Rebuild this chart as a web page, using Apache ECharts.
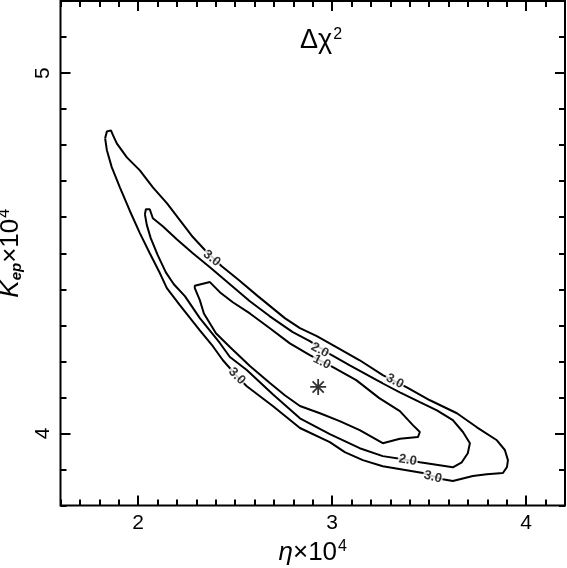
<!DOCTYPE html>
<html><head><meta charset="utf-8">
<script src="https://cdn.jsdelivr.net/npm/echarts@6/dist/echarts.min.js"></script>
<style>html,body{margin:0;padding:0;background:#fff}#c{width:567px;height:568px}</style>
</head><body><div id="c"></div>
<script>
// ---- data (eta x 1e4, K_ep x 1e4) ----
const xRange = [1.6, 4.2];
const yRange = [3.8, 5.2];
const xMajorTicks = [2, 3, 4];
const yMajorTicks = [4, 5];
const contour30 = [
[1.830,4.819],[1.839,4.838],[1.860,4.841],[1.871,4.827],[1.890,4.805],[1.942,4.766],[2.009,4.730],[2.076,4.683],[2.148,4.639],[2.215,4.592],[2.282,4.545],[2.344,4.509],[2.431,4.464],[2.514,4.428],[2.617,4.381],[2.756,4.320],[2.834,4.292],[2.921,4.270],[3.024,4.239],[3.142,4.203],[3.261,4.162],[3.385,4.128],[3.504,4.092],[3.643,4.056],[3.746,4.017],[3.849,3.981],[3.890,3.954],[3.906,3.926],[3.901,3.907],[3.880,3.890],[3.797,3.887],[3.725,3.882],[3.622,3.868],[3.570,3.873],[3.468,3.890],[3.261,3.909],[3.158,3.926],[3.065,3.948],[2.988,3.976],[2.834,4.015],[2.694,4.076],[2.560,4.131],[2.509,4.159],[2.437,4.203],[2.385,4.242],[2.318,4.286],[2.215,4.356],[2.148,4.403],[2.112,4.445],[2.060,4.500],[2.009,4.556],[1.957,4.618],[1.906,4.683],[1.864,4.739],[1.839,4.786],[1.830,4.819]
];
const contour20 = [
[2.035,4.608],[2.040,4.622],[2.060,4.622],[2.076,4.597],[2.127,4.575],[2.199,4.539],[2.282,4.500],[2.370,4.461],[2.473,4.414],[2.576,4.367],[2.679,4.325],[2.797,4.281],[2.885,4.256],[2.998,4.217],[3.091,4.189],[3.230,4.148],[3.349,4.114],[3.452,4.087],[3.540,4.064],[3.622,4.037],[3.674,4.004],[3.710,3.973],[3.699,3.945],[3.668,3.920],[3.622,3.906],[3.452,3.920],[3.390,3.926],[3.261,3.937],[3.142,3.959],[2.988,3.998],[2.834,4.042],[2.694,4.109],[2.560,4.176],[2.473,4.212],[2.421,4.251],[2.318,4.320],[2.241,4.381],[2.184,4.414],[2.143,4.447],[2.101,4.495],[2.065,4.542],[2.045,4.578],[2.035,4.608]
];
const contour10 = [
[2.292,4.403],[2.292,4.410],[2.370,4.420],[2.421,4.392],[2.488,4.364],[2.576,4.333],[2.679,4.292],[2.782,4.250],[2.885,4.217],[3.004,4.184],[3.124,4.148],[3.243,4.098],[3.349,4.062],[3.416,4.023],[3.452,4.004],[3.442,3.990],[3.349,3.985],[3.261,3.973],[3.142,4.009],[3.039,4.034],[2.937,4.056],[2.834,4.076],[2.756,4.106],[2.679,4.140],[2.576,4.187],[2.473,4.240],[2.401,4.278],[2.339,4.333],[2.318,4.370],[2.292,4.403]
];
const bestFit = [2.928, 4.129];
const contourLabels = [
[2.380,4.486,'3.0'],[2.937,4.231,'2.0'],[2.947,4.198,'1.0'],[3.323,4.145,'3.0'],
[2.509,4.159,'3.0'],[3.390,3.926,'2.0'],[3.519,3.879,'3.0']
];
const labelAngles = [-38,-28,-27,-27,-45,-9,-14];

// ---- chart ----
const FONT = 'Liberation Sans';
const chart = echarts.init(document.getElementById('c'), null, {renderer:'canvas'});
const line = {color:'#000', width:2};
function xAx(pos, major, extra){
  return Object.assign({
    type:'value', position:pos, min:xRange[0], max:xRange[1],
    splitLine:{show:false}, axisLine:{show:false},
    axisTick: major ? {show:true, inside:true, length:10, lineStyle:line, customValues:xMajorTicks}
                    : {show:true, inside:true, length:6, lineStyle:line},
    axisLabel:{show:false}
  }, major ? {} : {interval:0.1}, extra||{});
}
function yAx(pos, major, extra){
  return Object.assign({
    type:'value', position:pos, min:yRange[0], max:yRange[1],
    splitLine:{show:false}, axisLine:{show:false},
    axisTick: major ? {show:true, inside:true, length:10, lineStyle:line, customValues:yMajorTicks}
                    : {show:true, inside:true, length:6, lineStyle:line},
    axisLabel:{show:false}
  }, major ? {} : {interval:0.1}, extra||{});
}
const supStyle = {fontFamily:FONT, fontSize:16, verticalAlign:'top', padding:[0,0,12,1], color:'#000'};
const option = {
  animation:false,
  backgroundColor:'#fff',
  textStyle:{fontFamily:FONT},
  title:{
    text:'Δχ{s|2}', left:316, top:22, textAlign:'center',
    textStyle:{fontFamily:FONT, fontSize:27, fontWeight:'normal', color:'#000', rich:{s:supStyle}}
  },
  grid:{left:60.5, top:1, width:504.5, height:504.5, show:true, borderColor:'#000', borderWidth:2,
        backgroundColor:'transparent', containLabel:false, outerBoundsMode:'none'},
  xAxis:[
    xAx('bottom', false),
    xAx('bottom', true, {
      axisLabel:{show:true, customValues:xMajorTicks, margin:7, color:'#000', fontFamily:FONT, fontSize:21},
      name:'{i|η}×10{s|4}', nameLocation:'middle', nameGap:32,
      nameTextStyle:{color:'#000', fontFamily:FONT, fontSize:26,
        rich:{i:{fontFamily:FONT, fontStyle:'italic', fontSize:26, color:'#000'}, s:supStyle}}
    }),
    xAx('top', false),
    xAx('top', true)
  ],
  yAxis:[
    yAx('left', false),
    yAx('left', true, {
      axisLabel:{show:true, customValues:yMajorTicks, margin:7, rotate:90, color:'#000', fontFamily:FONT, fontSize:21},
      name:'{i|K}{b|ep}×10{s|4}', nameLocation:'middle', nameGap:35, nameRotate:90,
      nameTextStyle:{color:'#000', fontFamily:FONT, fontSize:26,
        rich:{i:{fontFamily:FONT, fontStyle:'italic', fontSize:26, color:'#000'},
              b:{fontFamily:FONT, fontStyle:'italic', fontWeight:'bold', fontSize:15, verticalAlign:'bottom', padding:[10,0,0,0], color:'#000'},
              s:supStyle}}
    }),
    yAx('right', false),
    yAx('right', true)
  ],
  series:[
    {type:'line', xAxisIndex:0, yAxisIndex:0, data:contour30, showSymbol:false, symbol:'none', lineStyle:{color:'#000', width:2}, z:2},
    {type:'line', xAxisIndex:0, yAxisIndex:0, data:contour20, showSymbol:false, symbol:'none', lineStyle:{color:'#000', width:2}, z:2},
    {type:'line', xAxisIndex:0, yAxisIndex:0, data:contour10, showSymbol:false, symbol:'none', lineStyle:{color:'#000', width:2}, z:2},
    {type:'scatter', xAxisIndex:0, yAxisIndex:0, z:4,
      data:contourLabels.map((d,i)=>({value:[d[0],d[1]], name:d[2], label:{rotate:labelAngles[i]}})),
      symbolSize:1, itemStyle:{color:'rgba(0,0,0,0)'},
      label:{show:true, position:'inside', formatter:p=>p.name, color:'#000', fontFamily:FONT, fontWeight:'bold', fontSize:13,
        backgroundColor:'#fff', padding:[0,1]}
    },
    {type:'scatter', xAxisIndex:0, yAxisIndex:0, z:4, data:[bestFit], symbolSize:16,
      symbol:'path://M10,0L10,20M0,10L20,10M3,3L17,17M3,17L17,3',
      itemStyle:{color:'rgba(0,0,0,0)', borderColor:'#000', borderWidth:1.8}}
  ]
};
chart.setOption(option);
</script>
</body></html>
